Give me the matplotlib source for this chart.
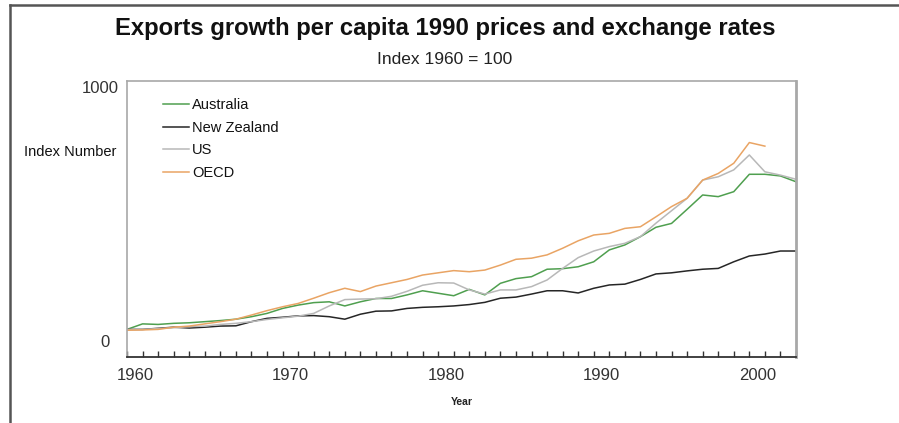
import matplotlib
matplotlib.use("Agg")
import matplotlib.pyplot as plt
import matplotlib.transforms as mtransforms
from matplotlib.lines import Line2D

# Index 1960 = 100
years = list(range(1960, 2004))

australia = [100, 120, 118, 122, 124, 128, 132, 137, 146, 158,
             176, 188, 197, 200, 185, 200, 212, 212, 225, 240,
             231, 222, 245, 225, 267, 284, 291, 318, 320, 327,
             345, 388, 406, 436, 470, 484, 535, 587, 581, 599,
             662, 662, 656, 635]

new_zealand = [100, 100, 104, 108, 105, 108, 112, 113, 128, 140,
               144, 149, 150, 146, 137, 155, 166, 167, 176, 180,
               182, 185, 190, 198, 213, 217, 228, 240, 240, 232,
               249, 261, 264, 281, 301, 305, 312, 318, 321, 345,
               366, 373, 384, 384]

us = [100, 100, 103, 106, 110, 112, 118, 122, 128, 136,
      142, 148, 158, 185, 208, 210, 211, 220, 238, 260,
      269, 268, 243, 228, 243, 243, 255, 279, 321, 360,
      384, 400, 412, 436, 485, 530, 575, 641, 653, 678,
      732, 671, 659, 644]

oecd = [97, 98, 100, 108, 112, 120, 128, 137, 152, 168,
        182, 194, 213, 233, 249, 237, 257, 269, 281, 297,
        305, 313, 309, 315, 333, 354, 358, 370, 394, 421,
        442, 448, 466, 472, 508, 545, 575, 641, 665, 702,
        777, 764, None, None]

series = [("Australia", australia, "#4f9f4f"),
          ("New Zealand", new_zealand, "#262626"),
          ("US", us, "#b8b8b8"),
          ("OECD", oecd, "#e9a464")]

year_labels = [1960, 1970, 1980, 1990, 2000]

plt.rcParams["font.family"] = ["Liberation Sans", "DejaVu Sans"]

fig = plt.figure(figsize=(8.99, 4.23), dpi=100)
ax = fig.add_axes([127/899, 1 - 357/423, 669/899, 276/423])

for name, vals, col in series:
    xs = [y for y, v in zip(years, vals) if v is not None]
    ys = [v for v in vals if v is not None]
    ax.plot(xs, ys, color=col, lw=1.1, label=name)

ax.set_xlim(1960, 2003)
ax.set_ylim(0, 1000)

ax.set_xticks(year_labels)
ax.set_xticklabels([str(y) for y in year_labels], fontsize=12, color="#333333")
ax.set_xticks(years, minor=True)
ax.tick_params(axis="x", which="both", direction="in", length=4, width=1, color="#333333", pad=8)
ax.set_yticks([0, 1000])
ax.set_yticklabels(["0", "1000"], fontsize=12, color="#333333")
ax.tick_params(axis="y", length=0, pad=8)

# labels in the original sit a bit off the tick positions
for lab in ax.get_xticklabels():
    lab.set_transform(lab.get_transform() + mtransforms.ScaledTranslation(8/100, 0, fig.dpi_scale_trans))
ylabs = ax.get_yticklabels()
ylabs[0].set_transform(ylabs[0].get_transform() + mtransforms.ScaledTranslation(-6/100, 16/100, fig.dpi_scale_trans))
ylabs[1].set_transform(ylabs[1].get_transform() + mtransforms.ScaledTranslation(3/100, -6/100, fig.dpi_scale_trans))

for s in ["left", "top"]:
    ax.spines[s].set_color("#a8a8a8")
    ax.spines[s].set_linewidth(1.2)
ax.spines["right"].set_color("#a8a8a8")
ax.spines["right"].set_linewidth(2)
ax.spines["bottom"].set_color("#333333")
ax.spines["bottom"].set_linewidth(1.3)

ax.set_xlabel("Year", fontsize=7.5, fontweight="bold", color="#222222", labelpad=10)

fig.text(0.027, 1 - 152/423, "Index Number", fontsize=10.5, color="#111111", va="center")

leg = ax.legend(loc="upper left", bbox_to_anchor=(0.045, 0.96), frameon=False,
                fontsize=10.5, handlelength=1.8, handletextpad=0.2, labelspacing=0.6,
                borderaxespad=0)
for t in leg.get_texts():
    t.set_color("#111111")

fig.text(0.495, 1 - 29/423, "Exports growth per capita 1990 prices and exchange rates",
         fontsize=17.2, fontweight="bold", ha="center", va="center", color="#111111")
fig.text(0.495, 1 - 60/423, "Index 1960 = 100", fontsize=12.5,
         ha="center", va="center", color="#222222")

# outer frame, left and top edges
fig.add_artist(Line2D([10/899, 10/899], [0, 1 - 5/423], transform=fig.transFigure, color="#555555", lw=1.8))
fig.add_artist(Line2D([10/899, 1], [1 - 5/423, 1 - 5/423], transform=fig.transFigure, color="#555555", lw=1.8))

fig.savefig("out.png", dpi=100)
